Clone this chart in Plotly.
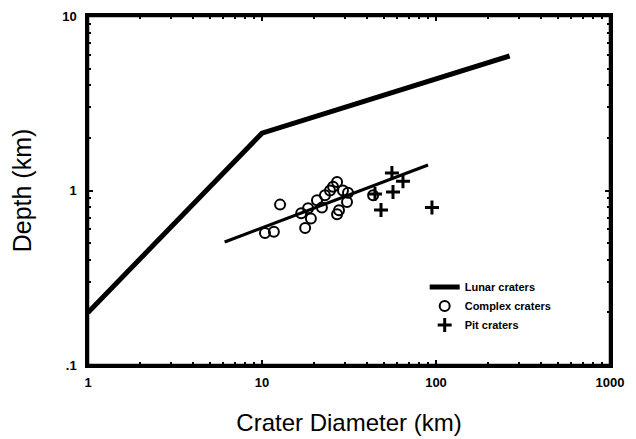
import plotly.graph_objects as go

# Lunar crater depth/diameter relation (km)
lunar_diam = [1, 10, 265]
lunar_depth = [0.2, 2.13, 5.9]

# Complex craters
complex_diam = [12.7, 10.4, 11.7, 16.8, 17.7, 19.1, 18.4, 20.7, 23.0, 24.6, 27.0,
                29.2, 31.2, 30.8, 27.7, 27.0, 43.5, 22.1, 25.6]
complex_depth = [0.83, 0.57, 0.58, 0.74, 0.61, 0.69, 0.79, 0.88, 0.94, 1.0, 1.12,
                 1.0, 0.97, 0.86, 0.77, 0.73, 0.94, 0.80, 1.05]

# Pit craters
pit_diam = [55.8, 64.6, 56.6, 44.6, 48.3, 94.8]
pit_depth = [1.26, 1.13, 0.98, 0.955, 0.774, 0.80]

# Fitted line through complex + pit craters
fit_diam = [6.1, 90]
fit_depth = [0.507, 1.40]

x_ticks = [1, 10, 100, 1000]
x_ticklabels = ["<b>1</b>", "<b>10</b>", "<b>100</b>", "<b>1000</b>"]
x_minor = [m * 10 ** e for e in range(0, 3) for m in range(2, 10)]
y_ticks = [0.1, 1, 10]
y_ticklabels = ["<b>.1</b>", "<b>1</b>", "<b>10</b>"]
y_minor = [m * 10 ** e for e in range(-1, 1) for m in range(2, 10)]

fig = go.Figure()
fig.add_trace(go.Scatter(x=lunar_diam, y=lunar_depth, mode="lines",
                         line=dict(color="black", width=5), name="<b>Lunar craters</b>"))
fig.add_trace(go.Scatter(x=fit_diam, y=fit_depth, mode="lines",
                         line=dict(color="black", width=3), showlegend=False))
fig.add_trace(go.Scatter(x=complex_diam, y=complex_depth, mode="markers",
                         marker=dict(symbol="circle-open", size=10, color="black",
                                     line=dict(width=2)),
                         name="<b>Complex craters</b>"))
fig.add_trace(go.Scatter(x=pit_diam, y=pit_depth, mode="markers",
                         marker=dict(symbol="cross-thin-open", size=10, color="black",
                                     line=dict(width=3)),
                         name="<b>Pit craters</b>"))

axis_common = dict(
    type="log", showgrid=False, zeroline=False, showline=True, linecolor="black",
    linewidth=2.5, mirror="ticks", ticks="inside", ticklen=5, tickwidth=2,
    tickcolor="black", automargin=False,
    tickfont=dict(family="Liberation Sans, Arial", size=13, color="black"),
)

fig.update_xaxes(**axis_common, range=[0, 3], tickmode="array", tickvals=x_ticks,
                 ticktext=x_ticklabels, ticklabelstandoff=4,
                 minor=dict(tickmode="array", tickvals=x_minor, ticks="inside",
                            ticklen=3, tickwidth=1.5, tickcolor="black", showgrid=False),
                 title=dict(text="Crater Diameter (km)", standoff=25,
                            font=dict(family="Liberation Sans, Arial", size=24, color="black")))
fig.update_yaxes(**axis_common, range=[-1, 1], tickmode="array", tickvals=y_ticks,
                 ticktext=y_ticklabels, ticklabelstandoff=6,
                 minor=dict(tickmode="array", tickvals=y_minor, ticks="inside",
                            ticklen=3, tickwidth=1.5, tickcolor="black", showgrid=False),
                 title=dict(text="Depth (km)", standoff=26,
                            font=dict(family="Liberation Sans, Arial", size=25, color="black")))

fig.add_shape(type="rect", xref="paper", yref="paper", x0=0, y0=0, x1=1, y1=1,
              line=dict(color="black", width=2.5), fillcolor="rgba(0,0,0,0)", layer="above")

fig.update_layout(
    width=628, height=431,
    margin=dict(l=80, r=26, t=8, b=74),
    paper_bgcolor="white", plot_bgcolor="white",
    legend=dict(x=0.645, y=0.265, xanchor="left", yanchor="top",
                bgcolor="rgba(0,0,0,0)", itemwidth=30, tracegroupgap=0,
                font=dict(family="Liberation Sans, Arial", size=11, color="black")),
)

fig.write_html("out.html")
